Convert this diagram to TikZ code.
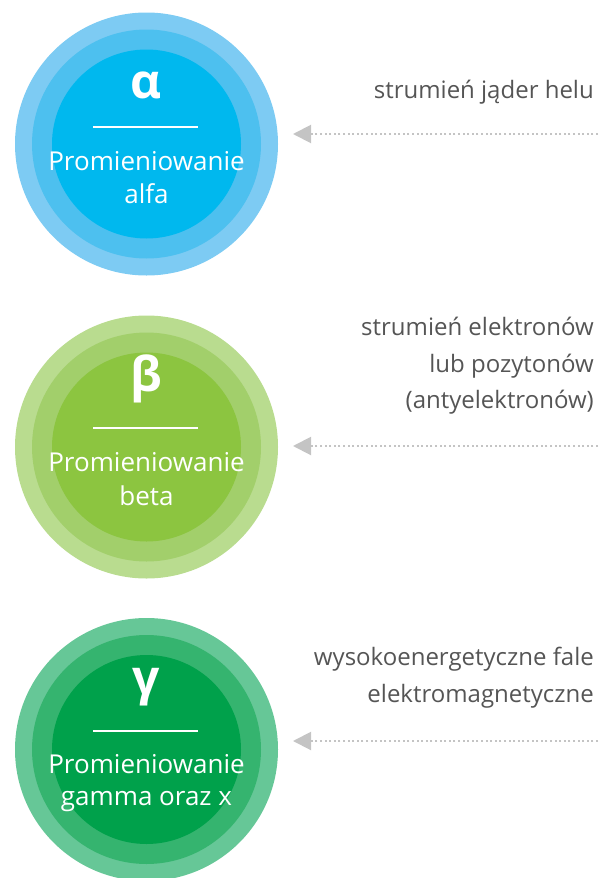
\documentclass[tikz,border=0pt]{standalone}
\usepackage{fontspec}
\setmainfont{Open Sans}
\usetikzlibrary{arrows.meta}

\definecolor{aOut}{HTML}{7DCBF3}
\definecolor{aMid}{HTML}{4DC0EF}
\definecolor{aIn}{HTML}{00B8EE}
\definecolor{bOut}{HTML}{B9DC8F}
\definecolor{bMid}{HTML}{A2CF6B}
\definecolor{bIn}{HTML}{8CC540}
\definecolor{gOut}{HTML}{66C797}
\definecolor{gMid}{HTML}{35B46F}
\definecolor{gIn}{HTML}{00A14B}
\definecolor{descgray}{HTML}{555555}
\definecolor{arrgray}{HTML}{C4C4C4}

\tikzset{
  disc/.style={circle, inner sep=0pt, outer sep=0pt, draw=none},
  ringouter/.style={disc, minimum size=263pt},
  ringmid/.style={disc, minimum size=229pt},
  ringinner/.style={disc, minimum size=189pt},
  greek/.style={anchor=base, text=white, inner sep=0pt,
    font=\fontsize{48}{52}\selectfont\bfseries},
  circtxt/.style={anchor=base, text=white, inner sep=0pt,
    font=\fontsize{26}{30}\selectfont},
  desc/.style={anchor=base east, text=descgray, inner sep=0pt,
    font=\fontsize{24}{28}\selectfont},
  rule/.style={draw=white, line width=1.5pt},
  pointer/.style={draw=arrgray, line width=2pt, dash pattern=on 2pt off 2.6pt,
    -{Triangle[length=18pt, width=18pt, fill=arrgray]}},
}

\begin{document}
\begin{tikzpicture}[x=1pt, y=-1pt]
  \useasboundingbox (0,0) rectangle (602,878);

  % alpha radiation
  \node[ringouter, fill=aOut] (aO) at (146.5,144) {};
  \node[ringmid, fill=aMid] (aM) at (146.5,144) {};
  \node[ringinner, fill=aIn] (aI) at (146.5,144) {};
  \node[greek] (aG) at (146.5,98.5) {α};
  \coordinate (aL1) at (93,127);
  \coordinate (aL2) at (198,127);
  \draw[rule] (aL1) -- (aL2);
  \node[circtxt] (aT1) at (146.5,170) {Promieniowanie};
  \node[circtxt] (aT2) at (146.5,203) {alfa};

  % beta radiation
  \node[ringouter, fill=bOut] (bO) at (146.5,447) {};
  \node[ringmid, fill=bMid] (bM) at (146.5,447) {};
  \node[ringinner, fill=bIn] (bI) at (146.5,447) {};
  \node[greek] (bG) at (146.5,391) {β};
  \coordinate (bL1) at (93,428);
  \coordinate (bL2) at (198,428);
  \draw[rule] (bL1) -- (bL2);
  \node[circtxt] (bT1) at (146.5,471.5) {Promieniowanie};
  \node[circtxt] (bT2) at (146.5,505) {beta};

  % gamma and x radiation
  \node[ringouter, fill=gOut] (gO) at (146.5,749.5) {};
  \node[ringmid, fill=gMid] (gM) at (146.5,749.5) {};
  \node[ringinner, fill=gIn] (gI) at (146.5,749.5) {};
  \node[greek] (gG) at (146.5,694.5) {γ};
  \coordinate (gL1) at (93,731);
  \coordinate (gL2) at (198,731);
  \draw[rule] (gL1) -- (gL2);
  \node[circtxt] (gT1) at (146.5,773) {Promieniowanie};
  \node[circtxt] (gT2) at (146.5,805) {gamma oraz x};

  % descriptions
  \node[desc] (d1) at (594,98) {strumień jąder helu};
  \node[desc] (d2a) at (594,335) {strumień elektronów};
  \node[desc] (d2b) at (594,372) {lub pozytonów};
  \node[desc] (d2c) at (594,408.5) {(antyelektronów)};
  \node[desc] (d3a) at (594,665) {wysokoenergetyczne fale};
  \node[desc] (d3b) at (594,702) {elektromagnetyczne};

  % dotted pointers towards the circles
  \coordinate (p1s) at (598,134);
  \coordinate (p1e) at (293,134);
  \coordinate (p2s) at (598,446);
  \coordinate (p2e) at (293,446);
  \coordinate (p3s) at (598,741);
  \coordinate (p3e) at (293,741);
  \draw[pointer] (p1s) -- (p1e);
  \draw[pointer] (p2s) -- (p2e);
  \draw[pointer] (p3s) -- (p3e);
\end{tikzpicture}
\end{document}
